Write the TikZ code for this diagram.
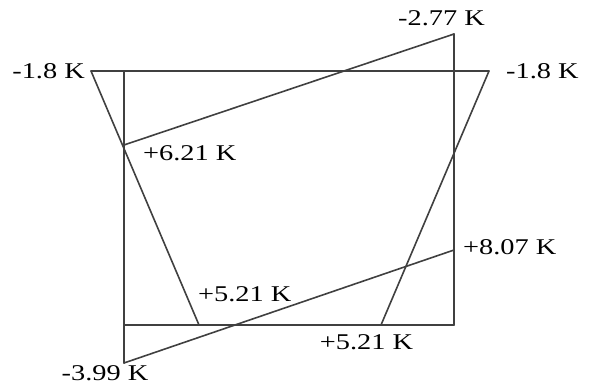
\documentclass[tikz,border=0pt]{standalone}
\usepackage{fontspec}
\newfontfamily\labelfont[FakeStretch=1.26]{Liberation Serif}
\usepackage{tikz}
\usetikzlibrary{positioning}

\begin{document}
\begin{tikzpicture}[
  x=1pt, y=-1pt,
  wall/.style={line width=1.6pt, color=black!75, line cap=round},
  lbl/.style={font=\labelfont\fontsize{22.5}{24}\selectfont, inner sep=0pt}
]
  \useasboundingbox (0,0) rectangle (591,387);

  % outline points
  \coordinate (tl) at (91,71);
  \coordinate (tr) at (489,71);
  \coordinate (lt) at (124,71);
  \coordinate (lb) at (124,363);
  \coordinate (rt) at (454,34);
  \coordinate (rb) at (454,325);
  \coordinate (bl) at (124,325);
  \coordinate (ql) at (199,325);
  \coordinate (qr) at (381,325);
  \coordinate (pl) at (124,145);
  \coordinate (pr) at (454,250);

  \draw[wall] (tl) -- (tr);
  \draw[wall] (lt) -- (lb);
  \draw[wall] (rt) -- (rb);
  \draw[wall] (bl) -- (rb);
  \draw[wall] (tl) -- (ql);
  \draw[wall] (tr) -- (qr);
  \draw[wall] (pl) -- (rt);
  \draw[wall] (lb) -- (pr);

  % temperatures
  \node[lbl, left=6pt of tl] (ttl) {-1.8 K};
  \node[lbl, right=17pt of tr] (ttr) {-1.8 K};
  \node[lbl, above=8pt of rt, xshift=-12.5pt] (trt) {-2.77 K};
  \node[lbl, right=19pt of pl, yshift=-8pt] (tpl) {+6.21 K};
  \node[lbl, above right=23pt and -1pt of ql] (tql) {+5.21 K};
  \node[lbl, below=9.5pt of qr, xshift=-14.5pt] (tqr) {+5.21 K};
  \node[lbl, below=2pt of lb, xshift=-19pt] (tlb) {-3.99 K};
  \node[lbl, right=9pt of pr, yshift=3pt] (tpr) {+8.07 K};
\end{tikzpicture}
\end{document}
